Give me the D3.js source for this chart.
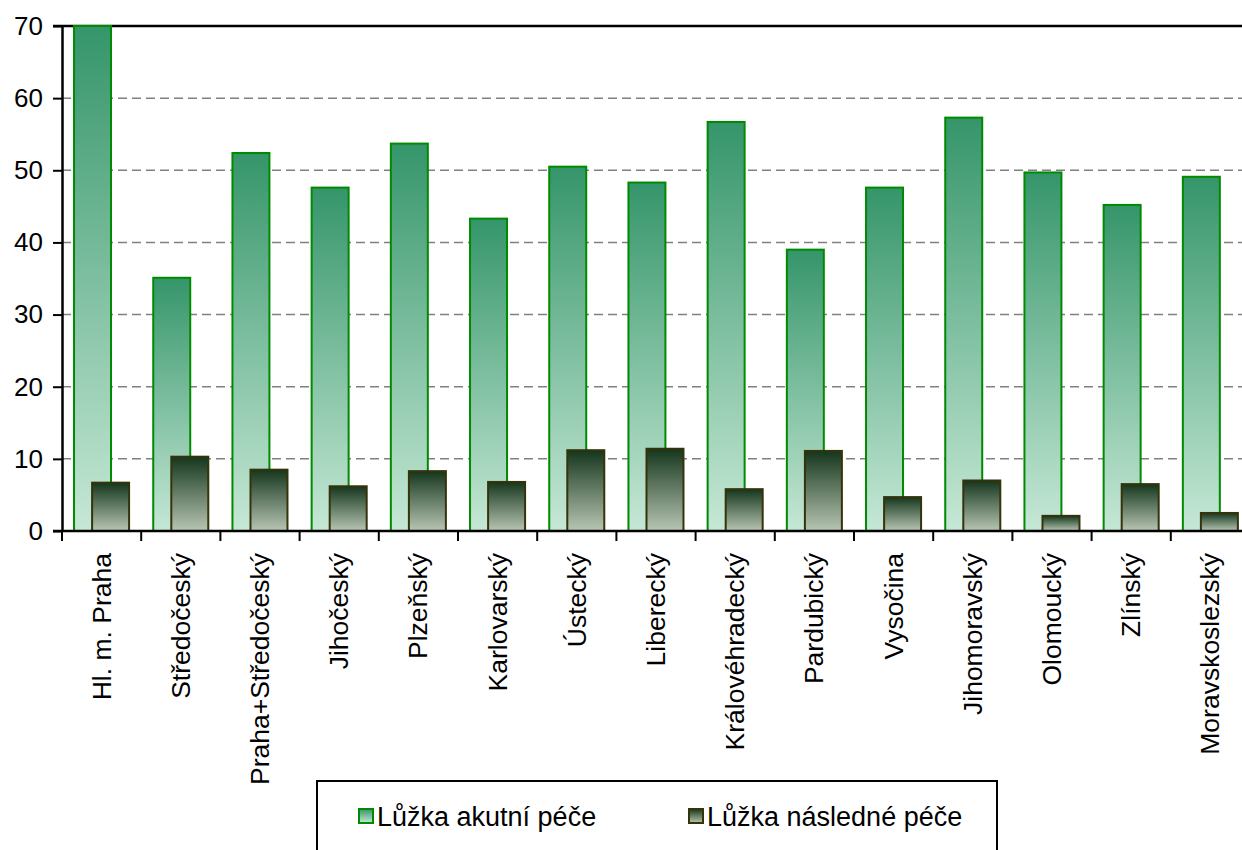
<!DOCTYPE html>
<html>
<head>
<meta charset="utf-8">
<script src="https://cdn.jsdelivr.net/npm/d3@7"></script>
<style>
  body { margin: 0; background: #fff; }
  svg { display: block; font-family: "Liberation Sans", Arial, sans-serif; }
</style>
</head>
<body>
<div id="container"></div>
<script>
/* DATA */
const regions = ["Hl. m. Praha", "Středočeský", "Praha+Středočeský", "Jihočeský", "Plzeňský",
  "Karlovarský", "Ústecký", "Liberecký", "Královéhradecký", "Pardubický", "Vysočina",
  "Jihomoravský", "Olomoucký", "Zlínský", "Moravskoslezský"];
const acute = [70, 35.1, 52.4, 47.6, 53.7, 43.3, 50.5, 48.3, 56.7, 39.0, 47.6, 57.3, 49.7, 45.2, 49.1];
const followUp = [6.7, 10.3, 8.5, 6.2, 8.3, 6.8, 11.2, 11.4, 5.8, 11.1, 4.7, 7.0, 2.1, 6.5, 2.5];
const yTicks = [0, 10, 20, 30, 40, 50, 60, 70];
const seriesNames = ["Lůžka akutní péče", "Lůžka následné péče"];

/* CONSTANTS */
const width = 1242, height = 850;
const margin = { top: 26, left: 62, bottom: 319 };
const plotRight = 1250; // plot runs past the picture edge

const svg = d3.select("#container")
  .append("svg")
  .attr("width", width)
  .attr("height", height);

const defs = svg.append("defs");

const greenGrad = defs.append("linearGradient")
  .attr("id", "gGreen").attr("x1", 0).attr("y1", 0).attr("x2", 0).attr("y2", 1);
greenGrad.append("stop").attr("offset", "0%").attr("stop-color", "#35956a");
greenGrad.append("stop").attr("offset", "100%").attr("stop-color", "#c6e8d6");

const darkGrad = defs.append("linearGradient")
  .attr("id", "gDark").attr("x1", 0).attr("y1", 0).attr("x2", 0).attr("y2", 1);
darkGrad.append("stop").attr("offset", "0%").attr("stop-color", "#15361c");
darkGrad.append("stop").attr("offset", "100%").attr("stop-color", "#b8c6b4");

/* SCALES */
const xScale = d3.scaleBand()
  .domain(regions)
  .range([margin.left, plotRight])
  .padding(0);

const yScale = d3.scaleLinear()
  .domain([0, 70])
  .range([height - margin.bottom, margin.top])
  .clamp(true);

const bw = xScale.bandwidth();
const barW = bw * 0.467;

// gridlines
svg.append("g")
  .selectAll("line")
  .data(yTicks.filter(d => d > 0 && d < 70))
  .join("line")
  .attr("x1", margin.left)
  .attr("x2", width)
  .attr("y1", d => yScale(d))
  .attr("y2", d => yScale(d))
  .attr("stroke", "#808080")
  .attr("stroke-width", 1.5)
  .attr("stroke-dasharray", "9,5");

// top border
svg.append("line")
  .attr("x1", margin.left - 9).attr("x2", width)
  .attr("y1", yScale(70)).attr("y2", yScale(70))
  .attr("stroke", "#000").attr("stroke-width", 2.5);

// acute bars
svg.append("g")
  .selectAll("rect")
  .data(regions.map((r, i) => [r, acute[i]]))
  .join("rect")
  .attr("x", d => xScale(d[0]) + bw * 0.152)
  .attr("y", d => yScale(d[1]))
  .attr("width", barW)
  .attr("height", d => yScale(0) - yScale(d[1]))
  .attr("fill", "url(#gGreen)")
  .attr("stroke", "#008a00")
  .attr("stroke-width", 2);

// follow-up bars
svg.append("g")
  .selectAll("rect")
  .data(regions.map((r, i) => [r, followUp[i]]))
  .join("rect")
  .attr("x", d => xScale(d[0]) + bw * 0.38)
  .attr("y", d => yScale(d[1]))
  .attr("width", barW)
  .attr("height", d => yScale(0) - yScale(d[1]))
  .attr("fill", "url(#gDark)")
  .attr("stroke", "#35330a")
  .attr("stroke-width", 2);

/* AXES */
const yAxis = d3.axisLeft(yScale)
  .tickValues(yTicks)
  .tickSize(9)
  .tickPadding(10)
  .tickSizeOuter(0);

const gy = svg.append("g")
  .attr("transform", `translate(${margin.left},0)`)
  .call(yAxis);
gy.selectAll(".tick text")
  .attr("font-size", "26px")
  .attr("fill", "#000")
  .attr("font-family", "Liberation Sans, Arial, sans-serif");
gy.selectAll("line").attr("stroke", "#000").attr("stroke-width", 2);
gy.select(".domain").attr("stroke", "#000").attr("stroke-width", 2.5);

// x axis line + ticks at band edges
const xAxisY = yScale(0);
svg.append("line")
  .attr("x1", margin.left - 9).attr("x2", width)
  .attr("y1", xAxisY).attr("y2", xAxisY)
  .attr("stroke", "#000").attr("stroke-width", 2.5);

svg.append("g")
  .selectAll("line")
  .data(regions)
  .join("line")
  .attr("x1", d => xScale(d))
  .attr("x2", d => xScale(d))
  .attr("y1", xAxisY)
  .attr("y2", xAxisY + 10)
  .attr("stroke", "#000")
  .attr("stroke-width", 2);

// category labels
svg.append("g")
  .selectAll("text")
  .data(regions)
  .join("text")
  .attr("transform", d => `translate(${xScale(d) + bw / 2 + 9},${xAxisY + 22}) rotate(-90)`)
  .attr("text-anchor", "end")
  .attr("font-size", "26.5px")
  .attr("fill", "#000")
  .text(d => d);

/* LEGEND */
const legend = svg.append("g");
legend.append("rect")
  .attr("x", 317).attr("y", 781)
  .attr("width", 680).attr("height", 90)
  .attr("fill", "#fff")
  .attr("stroke", "#000")
  .attr("stroke-width", 2);

const legendX = [359, 689];
const legendFill = ["url(#gGreen)", "url(#gDark)"];
const legendStroke = ["#008a00", "#35330a"];

const items = legend.selectAll("g.item")
  .data(seriesNames)
  .join("g")
  .attr("class", "item")
  .attr("transform", (d, i) => `translate(${legendX[i]},809)`);

items.append("rect")
  .attr("width", 14).attr("height", 14)
  .attr("fill", (d, i) => legendFill[i])
  .attr("stroke", (d, i) => legendStroke[i])
  .attr("stroke-width", 2);

items.append("text")
  .attr("x", 18)
  .attr("y", 17)
  .attr("font-size", "27px")
  .attr("fill", "#000")
  .text(d => d);
</script>
</body>
</html>
